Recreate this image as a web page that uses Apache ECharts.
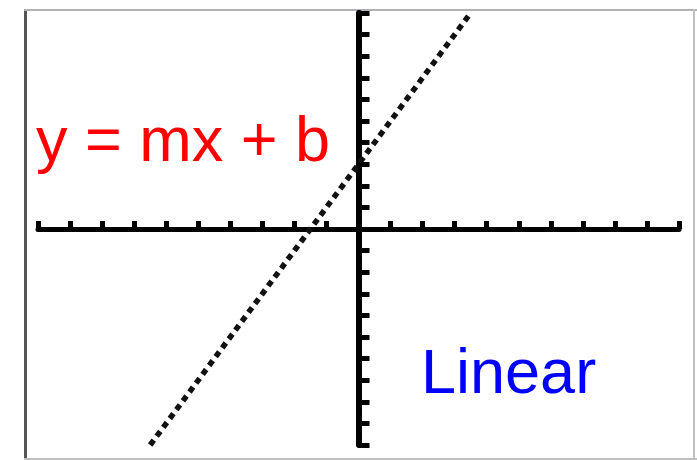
<!DOCTYPE html>
<html>
<head>
<meta charset="utf-8">
<script src="https://cdn.jsdelivr.net/npm/echarts@6/dist/echarts.min.js"></script>
<style>html,body{margin:0;padding:0;background:#fff;}#c{width:697px;height:460px;}</style>
</head>
<body>
<div id="c"></div>
<script>
// Window (standard graphing-calculator window)
var xRange = [-10, 10];
var yRange = [-10, 10];
var tickStep = 1;
// Points on the plotted line y = 2x + 3
var lineX = [-6.5, -1.5, 0, 3.5];
var lineY = [-10, 0, 3, 10];
// Texts
var equationLabel = 'y = mx + b';
var typeLabel = 'Linear';

var chart = echarts.init(document.getElementById('c'), null, {renderer: 'canvas'});
var pts = lineX.map(function (x, i) { return [x, lineY[i]]; });

chart.setOption({
  animation: false,
  backgroundColor: '#ffffff',
  grid: {left: 38, top: 13, width: 641, height: 432},
  xAxis: {
    type: 'value', min: xRange[0], max: xRange[1], interval: tickStep,
    axisLine: {onZero: true, lineStyle: {color: '#000', width: 5}},
    axisTick: {show: true, inside: true, length: 8, lineStyle: {color: '#000', width: 5}},
    axisLabel: {show: false}, splitLine: {show: false}
  },
  yAxis: {
    type: 'value', min: yRange[0], max: yRange[1], interval: tickStep,
    axisLine: {onZero: true, lineStyle: {color: '#000', width: 6}},
    axisTick: {show: true, inside: true, length: 11, lineStyle: {color: '#000', width: 5}},
    axisLabel: {show: false}, splitLine: {show: false}
  },
  series: [{
    type: 'line', data: pts, showSymbol: false, symbol: 'none',
    lineStyle: {color: '#111', width: 5.5, type: [6, 5]}, z: 5
  }],
  graphic: [
    {type: 'rect', shape: {x: 24, y: 9, width: 3, height: 451}, style: {fill: '#555'}},
    {type: 'rect', shape: {x: 24, y: 9, width: 673, height: 2}, style: {fill: '#b0b0b8'}},
    {type: 'rect', shape: {x: 693, y: 9, width: 2, height: 451}, style: {fill: '#c0c0c0'}},
    {type: 'rect', shape: {x: 24, y: 458, width: 673, height: 2}, style: {fill: '#c0c0c0'}},
    {type: 'text', x: 36, y: 144, style: {text: equationLabel, fill: '#ff0000', font: '63px "Liberation Sans", Arial, sans-serif', verticalAlign: 'middle', align: 'left'}},
    {type: 'text', x: 421, y: 376, style: {text: typeLabel, fill: '#0000ff', font: '63px "Liberation Sans", Arial, sans-serif', verticalAlign: 'middle', align: 'left'}}
  ]
});
</script>
</body>
</html>
